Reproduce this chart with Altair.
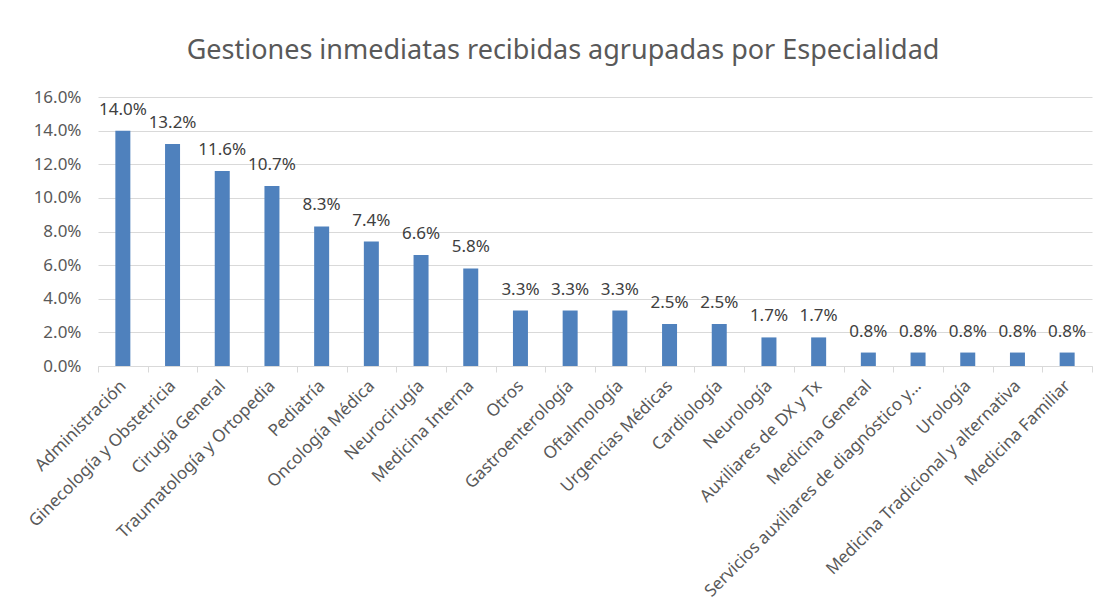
import altair as alt
import pandas as pd

categories = [
    "Administración", "Ginecología y Obstetricia", "Cirugía General",
    "Traumatología y Ortopedia", "Pediatría", "Oncología Médica", "Neurocirugía",
    "Medicina Interna", "Otros", "Gastroenterología", "Oftalmología",
    "Urgencias Médicas", "Cardiología", "Neurología", "Auxiliares de DX y Tx",
    "Medicina General", "Servicios auxiliares de diagnóstico y…", "Urología",
    "Medicina Tradicional y alternativa", "Medicina Familiar",
]
values = [0.140, 0.132, 0.116, 0.107, 0.083, 0.074, 0.066, 0.058, 0.033, 0.033,
          0.033, 0.025, 0.025, 0.017, 0.017, 0.008, 0.008, 0.008, 0.008, 0.008]
y_ticks = [0, 0.02, 0.04, 0.06, 0.08, 0.10, 0.12, 0.14, 0.16]

df = pd.DataFrame({"Especialidad": categories, "Valor": values})

FONT = "Noto Sans"

x = alt.X("Especialidad:N", sort=categories, title=None,
          scale=alt.Scale(paddingInner=0, paddingOuter=0),
          axis=alt.Axis(labelAngle=-45, labelAlign="right", labelBaseline="middle",
                        labelFontSize=17, labelFont=FONT, labelColor="#595959",
                        labelPadding=11, labelLimit=400, labelOverlap=False,
                        domainColor="#d9d9d9", tickColor="#d9d9d9", tickSize=6,
                        tickBand="extent", grid=False))
y = alt.Y("Valor:Q", title=None,
          scale=alt.Scale(domain=[0, 0.16], nice=False),
          axis=alt.Axis(format=".1%", values=y_ticks, labelOverlap=False,
                        tickCount=9,
                        labelFontSize=17, labelFont=FONT, labelColor="#595959",
                        labelPadding=17, domain=False, ticks=False,
                        gridColor="#d9d9d9", gridWidth=1))

base = alt.Chart(df).encode(x=x, y=y)
bars = base.mark_bar(size=15, color="#4f81bd")
labels = base.mark_text(dy=-16, baseline="alphabetic", fontSize=17, font=FONT,
                        color="#404040").encode(text=alt.Text("Valor:Q", format=".1%"))

chart = (bars + labels).properties(
    width=994, height=269,
    autosize=alt.AutoSizeParams(type="none"),
    padding={"left": 90, "top": 89, "right": 5, "bottom": 240},
    title=alt.TitleParams("Gestiones inmediatas recibidas agrupadas por Especialidad",
                          font=FONT, fontSize=27, fontWeight="normal", color="#595959",
                          anchor="middle", frame="group", dx=-32, offset=23),
).configure_view(stroke=None)

chart.save("out.html", embed_options={"renderer": "svg", "actions": False})
